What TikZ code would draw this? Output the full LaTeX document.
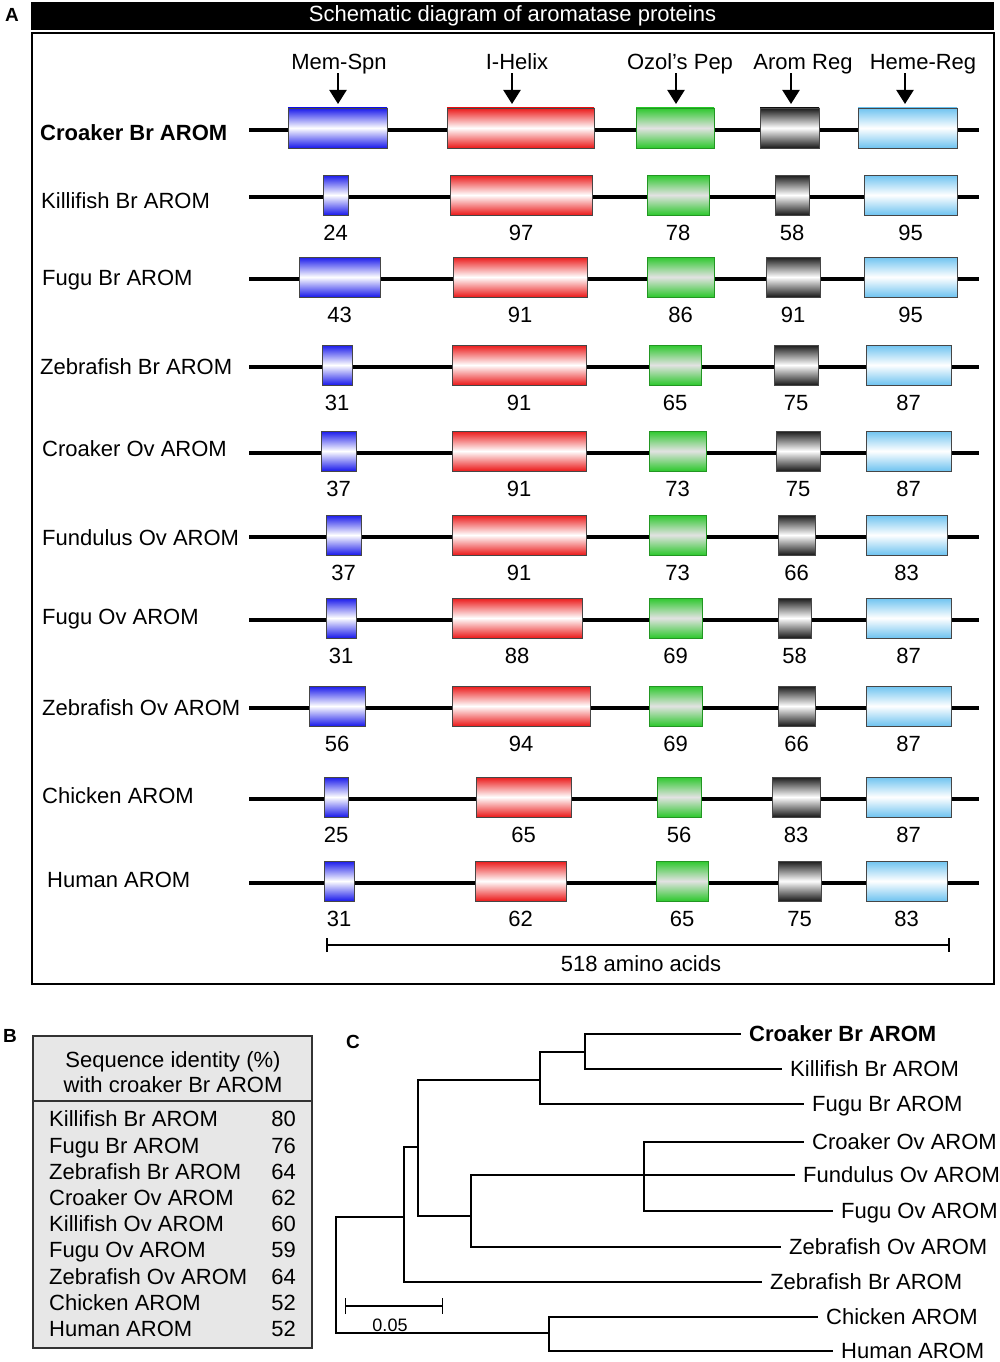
\documentclass[tikz,border=0pt]{standalone}
\usepackage{fontspec}
\setmainfont{Liberation Sans}
\usetikzlibrary{arrows.meta,calc,positioning}
\definecolor{memblue}{RGB}{25,25,235}
\definecolor{helixred}{RGB}{235,25,25}
\definecolor{ozolgreen}{RGB}{45,200,45}
\definecolor{ozolgray}{RGB}{226,226,226}
\definecolor{aromblack}{RGB}{25,25,25}
\definecolor{hemeblue}{RGB}{110,195,240}
\definecolor{boxedge}{RGB}{70,70,70}
\definecolor{tablegray}{RGB}{231,231,231}

\begin{document}
\begin{tikzpicture}[
    x=1pt, y=-1pt,
    txt/.style={font=\fontsize{22}{26}\selectfont},
    num/.style={txt, inner sep=0, text height=15.75pt, text depth=0pt},
    rowname/.style={num, anchor=west},
    domlab/.style={num, inner sep=3pt},
    leaf/.style={num, anchor=west, inner xsep=8pt},
    letter/.style={font=\fontsize{19}{22}\selectfont\bfseries, inner sep=0},
    protbox/.style={rectangle, draw=boxedge, line width=0.8pt, inner sep=0, minimum height=40pt},
    memspn/.style={protbox, top color=memblue, bottom color=memblue, middle color=white},
    ihelix/.style={protbox, top color=helixred, bottom color=helixred, middle color=white},
    ozolpep/.style={protbox, draw=ozolgreen!75!black, top color=ozolgreen, bottom color=ozolgreen, middle color=ozolgray},
    aromreg/.style={protbox, top color=aromblack, bottom color=aromblack, middle color=white},
    hemereg/.style={protbox, top color=hemeblue, bottom color=hemeblue, middle color=white},
    backbone/.style={line width=3.6pt},
    pointer/.style={line width=2.2pt, -{Triangle[length=14pt,width=17pt]}},
    ruler/.style={line width=2pt, {Bar[width=14pt]}-{Bar[width=14pt]}},
    branch/.style={line width=1.1pt},
    frame/.style={line width=2pt},
    tablebox/.style={draw=black!80, line width=1.5pt, fill=tablegray}]
\useasboundingbox (0,0) rectangle (1000,1362);

% panel A
\node[letter] (pa) at (12,15) {A};
\node[fill=black, text=white, txt, inner sep=0, minimum width=963pt, minimum height=28pt] (title) at (512.5,16) {Schematic diagram of aromatase proteins};
\draw[frame] (32,33) rectangle (994,984);

\foreach \r/\y/\nx/\ny/\nm in {
    1/130/40/133/{\textbf{Croaker Br AROM}},
    2/197/41/201/Killifish Br AROM,
    3/279/42/278/Fugu Br AROM,
    4/367/40/367/Zebrafish Br AROM,
    5/453/42/449/Croaker Ov AROM,
    6/537/42/538/Fundulus Ov AROM,
    7/620/42/617/Fugu Ov AROM,
    8/708/42/708/Zebrafish Ov AROM,
    9/799/42/796/Chicken AROM,
    10/883/47/880/Human AROM}{
  \coordinate (row\r) at (0,\y);
  \coordinate (bs\r) at (249,\y);
  \coordinate (be\r) at (979,\y);
  \node[rowname] (name\r) at (\nx,\ny) {\nm};
  \draw[backbone] (bs\r) -- (be\r);
}

\foreach \r/\a/\b/\n in {1/288/387/0, 2/323/348/24, 3/299/380/43, 4/322/352/31, 5/321/356/37,
    6/326/361/37, 7/326/356/31, 8/309/365/56, 9/324/348/25, 10/324/354/31}{
  \node[memspn, minimum width={(\b-\a)*1pt}] (mem\r) at ($(row\r)+({(\a+\b)/2},-2)$) {};
  \ifnum\r>1 \node[num, below=9pt of mem\r] (memv\r) {\n}; \fi
}
\foreach \r/\a/\b/\n in {1/447/594/0, 2/450/592/97, 3/453/587/91, 4/452/586/91, 5/452/586/91,
    6/452/586/91, 7/452/582/88, 8/452/590/94, 9/476/571/65, 10/475/566/62}{
  \node[ihelix, minimum width={(\b-\a)*1pt}] (hel\r) at ($(row\r)+({(\a+\b)/2},-2)$) {};
  \ifnum\r>1 \node[num, below=9pt of hel\r] (helv\r) {\n}; \fi
}
\foreach \r/\a/\b/\n in {1/636/714/0, 2/647/709/78, 3/647/714/86, 4/649/701/65, 5/649/706/73,
    6/649/706/73, 7/649/702/69, 8/649/702/69, 9/657/701/56, 10/656/708/65}{
  \node[ozolpep, minimum width={(\b-\a)*1pt}] (ozo\r) at ($(row\r)+({(\a+\b)/2},-2)$) {};
  \ifnum\r>1 \node[num, below=9pt of ozo\r] (ozov\r) {\n}; \fi
}
\foreach \r/\a/\b/\n in {1/760/819/0, 2/775/809/58, 3/766/820/91, 4/774/818/75, 5/776/820/75,
    6/778/815/66, 7/778/811/58, 8/778/815/66, 9/772/820/83, 10/778/821/75}{
  \node[aromreg, minimum width={(\b-\a)*1pt}] (aro\r) at ($(row\r)+({(\a+\b)/2},-2)$) {};
  \ifnum\r>1 \node[num, below=9pt of aro\r] (arov\r) {\n}; \fi
}
\foreach \r/\a/\b/\n in {1/858/957/0, 2/864/957/95, 3/864/957/95, 4/866/951/87, 5/866/951/87,
    6/866/947/83, 7/866/951/87, 8/866/951/87, 9/866/951/87, 10/866/947/83}{
  \node[hemereg, minimum width={(\b-\a)*1pt}] (hem\r) at ($(row\r)+({(\a+\b)/2},-2)$) {};
  \ifnum\r>1 \node[num, below=9pt of hem\r] (hemv\r) {\n}; \fi
}

% domain labels
\foreach \d/\lx/\ax/\txt in {mem/339/338/Mem-Spn, hel/517/512/I-Helix, ozo/680/676/{Ozol’s Pep},
    aro/803/791/Arom Reg, hem/923/905/Heme-Reg}{
  \node[domlab] (\d lab) at (\lx,62) {\txt};
  \coordinate (\d tip) at (\ax,104);
  \draw[pointer] (\d lab.south -| \d tip) -- (\d tip);
}

\coordinate (aas) at (326,945);
\coordinate (aae) at (950,945);
\draw[ruler] (aas) -- (aae);
\node[num] (aalab) at (641,964) {518 amino acids};

% panel B
\node[letter] (pb) at (10,1036) {B};
\draw[tablebox] (33,1036) rectangle (312,1348);
\draw[line width=1.5pt, black!80] (33,1101) -- (312,1101);
\node[num] (bhead1) at (173,1060) {Sequence identity (\%)};
\node[num] (bhead2) at (173,1085) {with croaker Br AROM};
\foreach \i/\nm/\v in {1/Killifish Br AROM/80, 2/Fugu Br AROM/76, 3/Zebrafish Br AROM/64,
    4/Croaker Ov AROM/62, 5/Killifish Ov AROM/60, 6/Fugu Ov AROM/59,
    7/Zebrafish Ov AROM/64, 8/Chicken AROM/52, 9/Human AROM/52}{
  \node[rowname] (bn\i) at (49,{1119+26.2*(\i-1)}) {\nm};
  \node[num, anchor=east] (bv\i) at (296,{1119+26.2*(\i-1)}) {\v};
}

% panel C
\node[letter] (pc) at (353,1042) {C};
\foreach \i/\lx/\ly/\nm in {1/741/1034/{\textbf{Croaker Br AROM}}, 2/782/1069/Killifish Br AROM,
    3/804/1104/Fugu Br AROM, 4/804/1142/Croaker Ov AROM, 5/795/1175/Fundulus Ov AROM,
    6/833/1211/Fugu Ov AROM, 7/781/1247/Zebrafish Ov AROM, 8/762/1282/Zebrafish Br AROM,
    9/818/1317/Chicken AROM, 10/833/1351/Human AROM}{
  \node[leaf] (t\i) at (\lx,\ly) {\nm};
}
\coordinate (n1) at (585,1052);
\coordinate (n2) at (540,1080);
\coordinate (n3) at (644,1175);
\coordinate (n4) at (471,1216);
\coordinate (n5) at (418,1147);
\coordinate (n6) at (404,1217);
\coordinate (n7) at (549,1333);
\coordinate (root) at (336,1275);
\foreach \p/\c in {n1/t1.west, n1/t2.west, n2/n1, n2/t3.west, n3/t4.west, n3/t5.west,
    n3/t6.west, n4/n3, n4/t7.west, n5/n2, n5/n4, n6/n5, n6/t8.west, n7/t9.west,
    n7/t10.west, root/n6, root/n7}{
  \draw[branch] (\p) |- (\c);
}
\coordinate (sbs) at (345,1306);
\coordinate (sbe) at (443,1306);
\draw[branch, {Bar[width=16pt]}-{Bar[width=16pt]}] (sbs) -- (sbe);
\node[font=\fontsize{18}{20}\selectfont, inner sep=0] (sblab) at (390,1325) {0.05};

\end{tikzpicture}
\end{document}
